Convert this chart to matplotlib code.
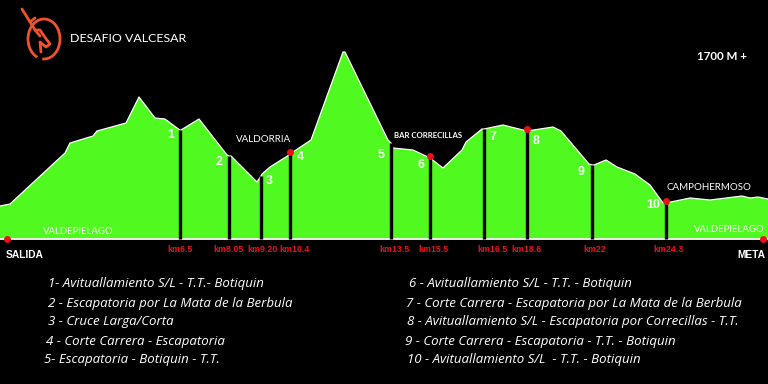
import numpy as np
import matplotlib.pyplot as plt
from matplotlib.patches import Arc

# elevation profile (distance position along the drawing, altitude in m)
dist = [0, 10, 65, 70, 93, 97, 126, 139, 155, 165, 177, 180,
        181, 199, 227, 229, 231, 257, 261, 262, 270, 289, 290,
        311, 343, 345, 388, 391, 393, 413, 430, 443, 462, 466, 482, 484,
        503, 527, 553, 561, 589, 592, 594, 606, 617, 635, 650, 663, 666,
        690, 710, 742, 750, 758, 768]
alt = [1132, 1140, 1344, 1384, 1412, 1432, 1464, 1568, 1484, 1480, 1444, 1436,
       1436, 1480, 1336, 1332, 1332, 1228, 1252, 1260, 1288, 1336, 1340,
       1396, 1748, 1748, 1396, 1384, 1364, 1356, 1324, 1284, 1356, 1388, 1440, 1440,
       1456, 1432, 1448, 1432, 1300, 1296, 1296, 1316, 1288, 1260, 1216, 1144, 1144,
       1164, 1156, 1172, 1164, 1168, 1160]
base_alt = 1000

cut_pos = [180, 229, 261, 290, 391, 430, 484, 527, 592, 666]
cut_num = ["1", "2", "3", "4", "5", "6", "7", "8", "9", "10"]
cut_km = ["km6.5", "km8.05", "km9.20", "km10.4", "km13.5", "km15.5",
          "km16.5", "km18.6", "km22", "km24.3"]
cut_dot = [False, False, False, True, False, True, False, True, False, True]

legend_left = ["1- Avituallamiento S/L - T.T.- Botiquin",
               "2 - Escapatoria por La Mata de la Berbula",
               "3 - Cruce Larga/Corta",
               "4 - Corte Carrera - Escapatoria",
               "5- Escapatoria - Botiquin - T.T."]
legend_right = ["6 - Avituallamiento S/L - T.T. - Botiquin",
                "7 - Corte Carrera - Escapatoria por La Mata de la Berbula",
                "8 - Avituallamiento S/L - Escapatoria por Correcillas - T.T.",
                "9 - Corte Carrera - Escapatoria - T.T. - Botiquin",
                "10 - Avituallamiento S/L  - T.T. - Botiquin"]

green = "#50f91f"
red = "#e8121a"
orange = "#f0522c"

fig = plt.figure(figsize=(7.68, 3.84), dpi=100, facecolor="black")

# profile axes: x in drawing distance, y in metres
ax = fig.add_axes([0, 0, 1, 1])
ax.set_facecolor("black")
ax.set_xlim(0, 768)
ax.set_ylim(420, 1956)
ax.axis("off")

ax.fill_between(dist, base_alt, alt, color=green, lw=0, zorder=1)
ax.plot(dist, alt, color="white", lw=0.9, zorder=2)
ax.axhline(base_alt, color="white", lw=1.3, zorder=2)

cut_alt = np.interp(cut_pos, dist, alt)
for x, top, dot in zip(cut_pos, cut_alt, cut_dot):
    ax.plot([x, x], [base_alt, top], color="black", lw=2.4, zorder=3,
            solid_capstyle="butt")
    if dot:
        ax.plot(x, top + 10, "o", color=red, ms=5, mec="none", zorder=4)

ax.plot([7, 763], [base_alt, base_alt], "o", color=red, ms=5, mec="none", zorder=4)

# overlay axes in pixel coordinates for text / logo
ov = fig.add_axes([0, 0, 1, 1])
ov.set_xlim(0, 768)
ov.set_ylim(384, 0)
ov.axis("off")
ov.patch.set_alpha(0)

narrow = "Liberation Sans"
num_off = [(-9, 5), (-10, 6), (8, 5), (10, 3), (-10, 12), (-9, 7), (9, 8), (9, 10), (-11, 7), (-13, 2)]
for x, n, (dx, dy), top in zip(cut_pos, cut_num, num_off, cut_alt):
    py = 239 - (top - base_alt) / 4
    ov.text(x + dx, py + dy, n, color="white", fontsize=9, fontweight="bold",
            family=narrow, ha="center", va="center")

km_off = [0, -1, 1, 5, 3, 3, 8, 0, 3, 3]
for x, k, dx in zip(cut_pos, cut_km, km_off):
    ov.text(x + dx, 250, k, color=red, fontsize=6.4, fontweight="bold",
            family=narrow, ha="center", va="center")

ov.text(6, 255, "SALIDA", color="white", fontsize=7.4, fontweight="bold",
        family=narrow, ha="left", va="center")
ov.text(765, 255, "META", color="white", fontsize=7.4, fontweight="bold",
        family=narrow, ha="right", va="center")

place_font = "Lato"
ov.text(264, 139, "VALDORRIA", color="white", fontsize=7, family=place_font,
        ha="center", va="center")
ov.text(428, 136, "BAR CORRECILLAS", color="white", fontsize=5.6,
        family=place_font, fontweight="bold", ha="center", va="center")
ov.text(709, 188, "CAMPOHERMOSO", color="white", fontsize=7, family=place_font,
        ha="center", va="center")
ov.text(43, 231, "VALDEPIELAGO", color="white", fontsize=6.9, family=place_font,
        ha="left", va="center")
ov.text(765, 230, "VALDEPIELAGO", color="white", fontsize=6.9, family=place_font,
        ha="right", va="center")

ov.text(70, 39, "DESAFIO VALCESAR", color="white", fontsize=8.9, family=place_font,
        ha="left", va="center")
ov.text(747, 57, "1700 M +", color="white", fontsize=8.4, fontweight="bold",
        family=place_font, ha="right", va="center")

# logo: rough deer head
ov.add_patch(Arc((44, 39), 32, 40, theta1=-250, theta2=95, color=orange, lw=2))
ov.plot([22, 30, 35, 40], [9, 22, 30, 36], color=orange, lw=2, solid_capstyle="round")
ov.plot([30, 35], [22, 18], color=orange, lw=2, solid_capstyle="round")
ov.plot([35, 40, 44, 50, 46, 40, 41], [30, 30, 36, 44, 47, 42, 52],
        color=orange, lw=2, solid_capstyle="round")

leg_font = "Open Sans"
left_x = [48, 48, 48, 46, 44]
right_x = [409, 406, 407, 405, 407]
rows_y = [283, 303, 322, 341, 360]
for x, y, t in zip(left_x, rows_y, legend_left):
    ov.text(x, y, t, color="white", fontsize=9.5, family=leg_font,
            style="italic", ha="left", va="center")
for x, y, t in zip(right_x, rows_y, legend_right):
    ov.text(x, y, t, color="white", fontsize=9.5, family=leg_font,
            style="italic", ha="left", va="center")

fig.savefig("out.png", dpi=100, facecolor="black")
